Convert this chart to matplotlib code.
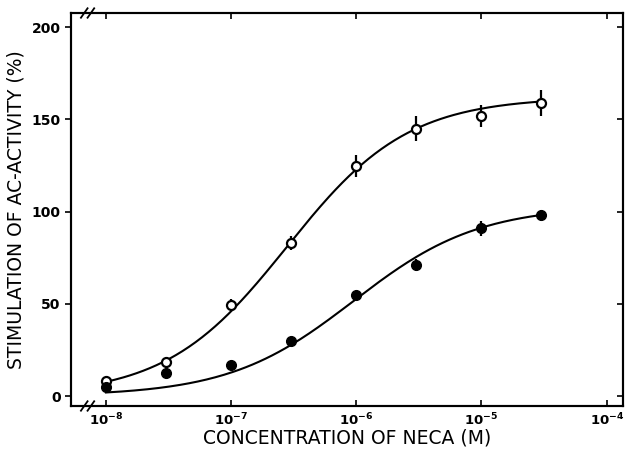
#!/usr/bin/env python3
"""NECA concentration-response: stimulation of AC activity, two conditions."""
import matplotlib
matplotlib.use("Agg")
import matplotlib.pyplot as plt
import numpy as np

# concentrations (M) and read-off responses (%)
conc = [1e-8, 3e-8, 1e-7, 3e-7, 1e-6, 3e-6, 1e-5, 3e-5]
open_y = [8, 18.5, 49.5, 83, 124.5, 145, 152, 159]
open_err = [2, 2, 3, 4, 6, 7, 6, 7]
filled_y = [5, 12.5, 17, 30, 54.5, 71, 91, 98]
filled_err = [2, 2, 2, 2, 2, 3, 4, 3]

# Hill fit parameters (top, EC50, slope) estimated from the drawn curves
open_fit = (162.0, 2.8e-7, 0.9)
filled_fit = (103.0, 9.5e-7, 0.87)

xticks = [1e-8, 1e-7, 1e-6, 1e-5, 1e-4]
xticklabels = [r"$\mathbf{10^{-8}}$", r"$\mathbf{10^{-7}}$", r"$\mathbf{10^{-6}}$",
               r"$\mathbf{10^{-5}}$", r"$\mathbf{10^{-4}}$"]
yticks = [0, 50, 100, 150, 200]


def hill(x, top, ec50, n):
    r = (x / ec50) ** n
    return top * r / (1 + r)


fig = plt.figure(figsize=(6.25, 4.5), dpi=100)
ax = fig.add_axes([0.1136, 0.0978, 0.8832, 0.8733])

xs = np.logspace(-8, np.log10(3e-5), 200)
ax.plot(xs, hill(xs, *open_fit), color="black", lw=1.5, zorder=2)
ax.plot(xs, hill(xs, *filled_fit), color="black", lw=1.5, zorder=2)

ax.errorbar(conc, open_y, yerr=open_err, fmt="o", ms=6.5, mfc="white",
            mec="black", mew=1.6, ecolor="black", elinewidth=1.6, capsize=0,
            zorder=3)
ax.errorbar(conc, filled_y, yerr=filled_err, fmt="o", ms=7, mfc="black",
            mec="black", ecolor="black", elinewidth=1.6, capsize=0, zorder=3)

ax.set_xscale("log")
ax.set_xlim(5.26e-9, 1.35e-4)
ax.set_ylim(-5.4, 207.6)
ax.set_xticks(xticks)
ax.set_xticklabels(xticklabels, fontsize=9.5)
ax.minorticks_off()
ax.set_yticks(yticks)
ax.set_yticklabels([str(v) for v in yticks], fontsize=10, fontweight="bold")

ax.tick_params(axis="x", direction="in", top=True, length=4, width=1.2, pad=4)
ax.tick_params(axis="y", direction="out", length=4, width=1.2)
# inward ticks on the right side
ax2 = ax.twinx()
ax2.set_ylim(ax.get_ylim())
ax2.set_yticks(yticks)
ax2.set_yticklabels([])
ax2.tick_params(axis="y", direction="in", length=4, width=1.2)

for a in (ax, ax2):
    for s in a.spines.values():
        s.set_linewidth(1.5)

# axis break marks
for yb in (0, 1):
    for dx in (-0.012, 0.0):
        ax.plot([0.030 + dx, 0.042 + dx], [yb - 0.012, yb + 0.012],
                transform=ax.transAxes, color="black", lw=1.3, clip_on=False)

ax.set_xlabel("CONCENTRATION OF NECA (M)", fontsize=13.5, labelpad=0)
ax.set_ylabel("STIMULATION OF AC-ACTIVITY (%)", fontsize=13.5, labelpad=4)

fig.savefig("out.png", dpi=100)
